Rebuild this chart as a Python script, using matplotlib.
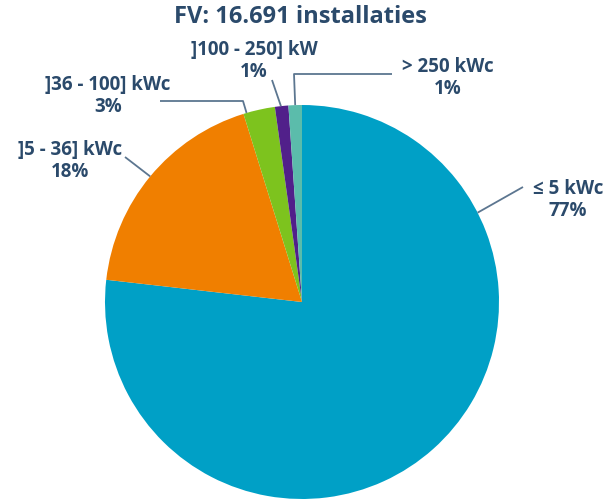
import numpy as np
import matplotlib
matplotlib.use("Agg")
import matplotlib.pyplot as plt

# data
categories = ["≤ 5 kWc", "]5 - 36] kWc", "]36 - 100] kWc", "]100 - 250] kW", "> 250 kWc"]
shares = [76.8, 18.4, 2.6, 1.1, 1.1]
pct_labels = ["77%", "18%", "3%", "1%", "1%"]
title = "FV: 16.691 installaties"

colors = ["#00a0c6", "#f07f00", "#7dc31e", "#51208a", "#5bbcab"]
text_col = "#2b4a6b"
line_col = "#5c7690"

W, H = 607, 499
fig = plt.figure(figsize=(W / 100, H / 100), dpi=100)
ax = fig.add_axes([0, 0, 1, 1])

cx, cy, r = 302, H - 302, 197
wedges, _ = ax.pie(shares, colors=colors, startangle=90, counterclock=False,
                   center=(cx, cy), radius=r, wedgeprops=dict(linewidth=0),
                   frame=True)
ax.set_xlim(0, W)
ax.set_ylim(0, H)
ax.set_aspect("equal")
ax.axis("off")


def py(y):
    return H - y


def edge_point(w, frac):
    # frac measured clockwise from the wedge start
    a = np.deg2rad(w.theta2 - (w.theta2 - w.theta1) * frac)
    return cx + r * np.cos(a), cy + r * np.sin(a)


# label centres (pixel coords, y from top) and leader elbows
text_pos = [(568, 200), (70, 161), (108, 96), (254, 61), (448, 78)]
elbows = [
    [(523, py(187))],
    [(125, py(157))],
    [(243, py(101)), (160, py(101))],
    [(272, py(80))],
    [(294, py(74)), (392, py(74))],
]
fracs = [0.228, 0.5, 0.1, 0.45, 0.5]

for i, w in enumerate(wedges):
    x0, y0 = edge_point(w, fracs[i])
    pts = [(x0, y0)] + elbows[i]
    xs, ys = zip(*pts)
    ax.plot(xs, ys, color=line_col, lw=1.3, solid_capstyle="butt")
    tx, ty = text_pos[i]
    ax.text(tx, py(ty), categories[i] + "\n" + pct_labels[i], ha="center", va="center",
            fontsize=13.5, fontweight="bold", color=text_col, family="Open Sans",
            linespacing=1.12)

ax.text(300, py(17), title, ha="center", va="center", fontsize=17,
        fontweight="bold", color=text_col, family="Open Sans")

fig.savefig("out.png", dpi=100)
